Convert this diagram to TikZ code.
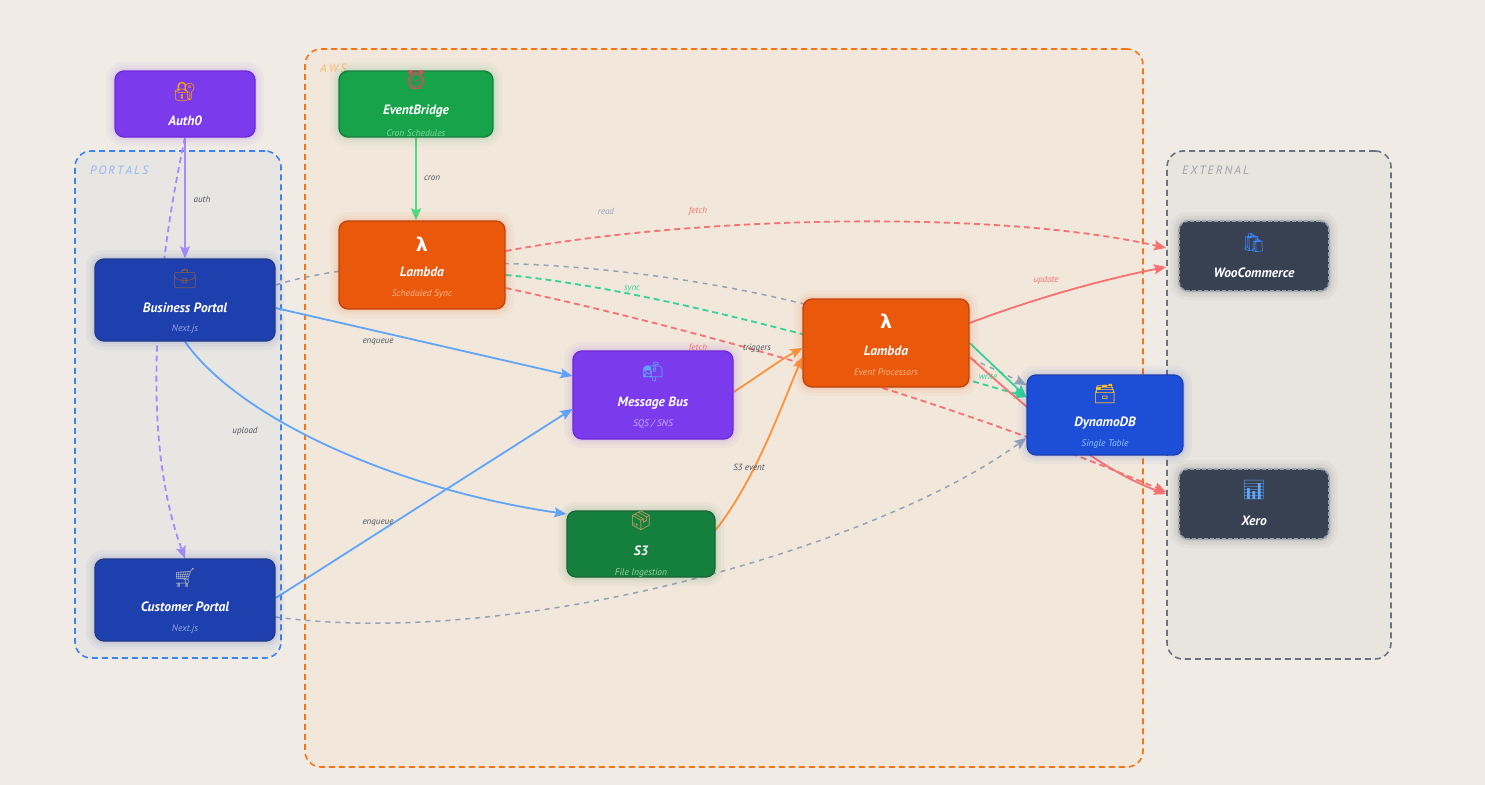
\documentclass[tikz,border=0pt]{standalone}
\usepackage{fontspec}
\setmainfont{PT Sans}
\newfontfamily\emo{Noto Emoji}
\newfontfamily\lamf{DejaVu Sans}
\usetikzlibrary{arrows.meta,calc}
\pgfdeclarelayer{grp}
\pgfdeclarelayer{edg}
\pgfsetlayers{grp,edg,main}
\definecolor{bgc}{HTML}{F0EBE4}
\definecolor{portfill}{HTML}{E8E6E2}
\definecolor{awsfill}{HTML}{F2E7DB}
\definecolor{extfill}{HTML}{E8E4DE}
\definecolor{portline}{HTML}{3B82F6}
\definecolor{awsline}{HTML}{F97316}
\definecolor{extline}{HTML}{6B7280}
\definecolor{portlab}{HTML}{93B4F5}
\definecolor{awslab}{HTML}{FDBA74}
\definecolor{extlab}{HTML}{9CA3AF}
\definecolor{cpurple}{HTML}{7C3AED}
\definecolor{cpurpled}{HTML}{6D28D9}
\definecolor{cnavy}{HTML}{1E40AF}
\definecolor{cnavyd}{HTML}{1E3A8A}
\definecolor{cgreen}{HTML}{16A34A}
\definecolor{cgreend}{HTML}{15803D}
\definecolor{cgreenb}{HTML}{15803D}
\definecolor{cgreenbd}{HTML}{166534}
\definecolor{corange}{HTML}{EA580C}
\definecolor{coranged}{HTML}{C2410C}
\definecolor{cblue}{HTML}{1D4ED8}
\definecolor{cblued}{HTML}{1E40AF}
\definecolor{cdark}{HTML}{374151}
\definecolor{cdarkb}{HTML}{9CA3AF}
\definecolor{epurple}{HTML}{A78BFA}
\definecolor{egreen}{HTML}{4ADE80}
\definecolor{eblue}{HTML}{60A5FA}
\definecolor{egray}{HTML}{94A3B8}
\definecolor{ered}{HTML}{F87171}
\definecolor{eteal}{HTML}{34D399}
\definecolor{eorange}{HTML}{FB923C}
\definecolor{lblc}{HTML}{4B5563}
\definecolor{subnavy}{HTML}{93A5E0}
\definecolor{suborange}{HTML}{FDBA8C}
\definecolor{subgreen}{HTML}{86D9A0}
\definecolor{subgreenb}{HTML}{9BCFA8}
\definecolor{subpurple}{HTML}{C4B5FD}
\definecolor{subblue}{HTML}{93C5FD}
\definecolor{icolock}{HTML}{F59E0B}
\definecolor{icobrief}{HTML}{8B5A4A}
\definecolor{icocart}{HTML}{A5ADBA}
\definecolor{icoalarm}{HTML}{F43F5E}
\definecolor{icomail}{HTML}{60A5FA}
\definecolor{icobox}{HTML}{D09A65}
\definecolor{icofile}{HTML}{FBBF24}
\definecolor{icobag}{HTML}{3B82F6}
\definecolor{icochart}{HTML}{60A5FA}
\tikzset{
  card/.style={rounded corners=9pt, line width=1.3pt, inner sep=0pt},
  glow/.style={preaction={draw=#1, solid, draw opacity=0.04, line width=18pt},
               preaction={draw=#1, solid, draw opacity=0.05, line width=11pt},
               preaction={draw=#1, solid, draw opacity=0.07, line width=5pt}},
  grpbox/.style={rounded corners=16pt, line width=1.6pt, dash pattern=on 6pt off 4pt, inner sep=0pt},
  ttl/.style={text=white, font=\bfseries\itshape\fontsize{13.5}{15}\selectfont, inner sep=0pt},
  subt/.style={font=\itshape\fontsize{9.5}{11}\selectfont, inner sep=0pt},
  ico/.style={font=\emo\bfseries\fontsize{19}{20}\selectfont, inner sep=0pt},
  lam/.style={text=white, font=\lamf\bfseries\fontsize{19}{20}\selectfont, inner sep=0pt},
  lbl/.style={font=\itshape\fontsize{9}{10}\selectfont, text=lblc, inner sep=0pt},
  grpl/.style={font=\itshape\fontsize{12}{13}\selectfont, anchor=west, inner sep=0pt},
  ed/.style={line width=1.8pt, -{Stealth[length=12pt,width=10pt,inset=2pt]}},
  dsh/.style={dash pattern=on 6pt off 4pt},
  dot/.style={dash pattern=on 5pt off 5pt, line width=1.5pt},
}
\begin{document}
\begin{tikzpicture}[x=1pt,y=-1pt]
\useasboundingbox (0,0) rectangle (1485,784);
% ---------- groups ----------
\begin{pgfonlayer}{grp}
\fill[bgc] (-2,-2) rectangle (1487,786);
\node[grpbox, draw=portline, fill=portfill, minimum width=206pt, minimum height=507pt] (portals) at (178,404.5) {};
\node[grpbox, draw=awsline, fill=awsfill, minimum width=838pt, minimum height=718pt] (aws) at (724,408) {};
\node[grpbox, draw=extline, fill=extfill, minimum width=224pt, minimum height=508pt] (ext) at (1279,405) {};
\node[grpl, text=portlab] (portals-l) at (90,170) {P\,O\,R\,T\,A\,L\,S};
\node[grpl, text=awslab] (aws-l) at (320,68) {A\,W\,S};
\node[grpl, text=extlab] (ext-l) at (1182,170) {E\,X\,T\,E\,R\,N\,A\,L};
\end{pgfonlayer}
% ---------- nodes ----------
\node[card, fill=cpurple, draw=cpurpled, glow=cpurple, minimum width=140pt, minimum height=66pt] (auth) at (185,104) {};
\node[ico, text=icolock] (auth-i) at ($(auth.center)+(0,-12)$) {🔐};
\node[ttl] (auth-t) at ($(auth.center)+(0,17)$) {Auth0};

\node[card, fill=cnavy, draw=cnavyd, glow=cnavy, minimum width=180pt, minimum height=82pt] (bp) at (185,300) {};
\node[ico, text=icobrief] (bp-i) at ($(bp.center)+(0,-21)$) {💼};
\node[ttl] (bp-t) at ($(bp.center)+(0,8)$) {Business Portal};
\node[subt, text=subnavy] (bp-s) at ($(bp.center)+(0,29)$) {Next.js};

\node[card, fill=cnavy, draw=cnavyd, glow=cnavy, minimum width=180pt, minimum height=82pt] (cp) at (185,600) {};
\node[ico, text=icocart] (cp-i) at ($(cp.center)+(0,-22)$) {🛒};
\node[ttl] (cp-t) at ($(cp.center)+(0,7)$) {Customer Portal};
\node[subt, text=subnavy] (cp-s) at ($(cp.center)+(0,29)$) {Next.js};

\node[card, fill=cgreen, draw=cgreend, glow=cgreen, minimum width=154pt, minimum height=66pt] (eb) at (416,104) {};
\node[ico, text=icoalarm] (eb-i) at ($(eb.center)+(0,-24)$) {⏰};
\node[ttl] (eb-t) at ($(eb.center)+(0,7)$) {EventBridge};
\node[subt, text=subgreen] (eb-s) at ($(eb.center)+(0,29)$) {Cron Schedules};

\node[card, fill=corange, draw=coranged, glow=corange, minimum width=166pt, minimum height=88pt] (lss) at (422,265) {};
\node[lam] (lss-i) at ($(lss.center)+(0,-21)$) {λ};
\node[ttl] (lss-t) at ($(lss.center)+(0,7)$) {Lambda};
\node[subt, text=suborange] (lss-s) at ($(lss.center)+(0,29)$) {Scheduled Sync};

\node[card, fill=cpurple, draw=cpurpled, glow=cpurple, minimum width=160pt, minimum height=88pt] (mb) at (653,395) {};
\node[ico, text=icomail] (mb-i) at ($(mb.center)+(0,-23)$) {📬};
\node[ttl] (mb-t) at ($(mb.center)+(0,8)$) {Message Bus};
\node[subt, text=subpurple] (mb-s) at ($(mb.center)+(0,29)$) {SQS / SNS};

\node[card, fill=cgreenb, draw=cgreenbd, glow=cgreenb, minimum width=148pt, minimum height=66pt] (s3) at (641,544) {};
\node[ico, text=icobox] (s3-i) at ($(s3.center)+(0,-23)$) {📦};
\node[ttl] (s3-t) at ($(s3.center)+(0,7)$) {S3};
\node[subt, text=subgreenb] (s3-s) at ($(s3.center)+(0,29)$) {File Ingestion};

\node[card, fill=corange, draw=coranged, glow=corange, minimum width=166pt, minimum height=88pt] (lep) at (886,343) {};
\node[lam] (lep-i) at ($(lep.center)+(0,-22)$) {λ};
\node[ttl] (lep-t) at ($(lep.center)+(0,8)$) {Lambda};
\node[subt, text=suborange] (lep-s) at ($(lep.center)+(0,29)$) {Event Processors};

\node[card, fill=cblue, draw=cblued, glow=cblue, minimum width=156pt, minimum height=80pt] (ddb) at (1105,415) {};
\node[ico, text=icofile] (ddb-i) at ($(ddb.center)+(0,-21)$) {🗃};
\node[ttl] (ddb-t) at ($(ddb.center)+(0,8)$) {DynamoDB};
\node[subt, text=subblue] (ddb-s) at ($(ddb.center)+(0,29)$) {Single Table};

\node[card, fill=cdark, draw=cdarkb, dash pattern=on 4pt off 2pt, line width=1.8pt, glow=cdark, minimum width=150pt, minimum height=70pt] (woo) at (1254,256) {};
\node[ico, text=icobag] (woo-i) at ($(woo.center)+(0,-13)$) {🛍};
\node[ttl] (woo-t) at ($(woo.center)+(0,17)$) {WooCommerce};

\node[card, fill=cdark, draw=cdarkb, dash pattern=on 4pt off 2pt, line width=1.8pt, glow=cdark, minimum width=150pt, minimum height=70pt] (xero) at (1254,504) {};
\node[ico, text=icochart] (xero-i) at ($(xero.center)+(0,-14)$) {📊};
\node[ttl] (xero-t) at ($(xero.center)+(0,17)$) {Xero};

% ---------- edges ----------
\begin{pgfonlayer}{edg}
\draw[ed, egray, dot] ($(bp.east)+(0,-15)$) .. controls (420,240) and (780,260) .. ($(ddb.west)+(0,-30)$);
\draw[ed, egray, dot] ($(cp.east)+(0,17)$) .. controls (520,650) and (880,545) .. ($(ddb.west)+(0,23)$);
\draw[ed, epurple] (auth.south) -- (bp.north);
\draw[ed, epurple, dsh] (auth.south) .. controls (150,300) and (145,450) .. (cp.north);
\draw[ed, egreen] (eb.south) -- (eb.south |- lss.north);
\draw[ed, eblue] ($(bp.east)+(0,8)$) -- ($(mb.west)+(0,-19)$);
\draw[ed, eblue] (bp.south) .. controls (240,420) and (400,490) .. ($(s3.west)+(0,-30)$);
\draw[ed, eblue] ($(cp.east)+(0,-2)$) -- ($(mb.west)+(0,14)$);
\draw[ed, ered, dsh] ($(lss.east)+(0,-14)$) .. controls (700,215) and (1000,210) .. ($(woo.west)+(-12,-8)$);
\draw[ed, eteal, dsh] ($(lss.east)+(0,10)$) .. controls (620,285) and (800,330) .. ($(ddb.west)+(0,-18)$);
\draw[ed, ered, dsh] ($(lss.east)+(0,23)$) .. controls (700,330) and (950,400) .. ($(xero.west)+(-12,-12)$);
\draw[ed, eorange] ($(mb.east)+(0,-3)$) .. controls (760,375) and (780,360) .. ($(lep.west)+(0,5)$);
\draw[ed, eorange] ($(s3.east)+(0,-14)$) .. controls (755,480) and (780,410) .. ($(lep.west)+(0,14)$);
\draw[ed, ered] ($(lep.east)+(0,-20)$) .. controls (1030,300) and (1100,280) .. ($(woo.west)+(-12,11)$);
\draw[ed, eteal] (lep.east) -- ($(ddb.west)+(0,-18)$);
\draw[ed, ered] ($(lep.east)+(0,14)$) .. controls (1040,420) and (1100,470) .. ($(xero.west)+(-12,-10)$);
% labels
\node[lbl] (l-auth) at (202,199) {auth};
\node[lbl] (l-cron) at (432,178) {cron};
\node[lbl, text=egray] (l-read) at (606,211) {read};
\node[lbl, text=ered] (l-fetch1) at (698,211) {fetch};
\node[lbl, text=eteal] (l-sync) at (632,289) {sync};
\node[lbl, text=ered] (l-update) at (1046,280) {update};
\node[lbl, text=ered] (l-fetch2) at (698,348) {fetch};
\node[lbl] (l-trig) at (757,348) {triggers};
\node[lbl] (l-enq1) at (378,342) {enqueue};
\node[lbl] (l-upl) at (245,431) {upload};
\node[lbl] (l-enq2) at (378,523) {enqueue};
\node[lbl] (l-s3) at (749,467) {S3 event};
\node[lbl, text=eteal] (l-write) at (988,376) {write};
\end{pgfonlayer}
\end{tikzpicture}
\end{document}
